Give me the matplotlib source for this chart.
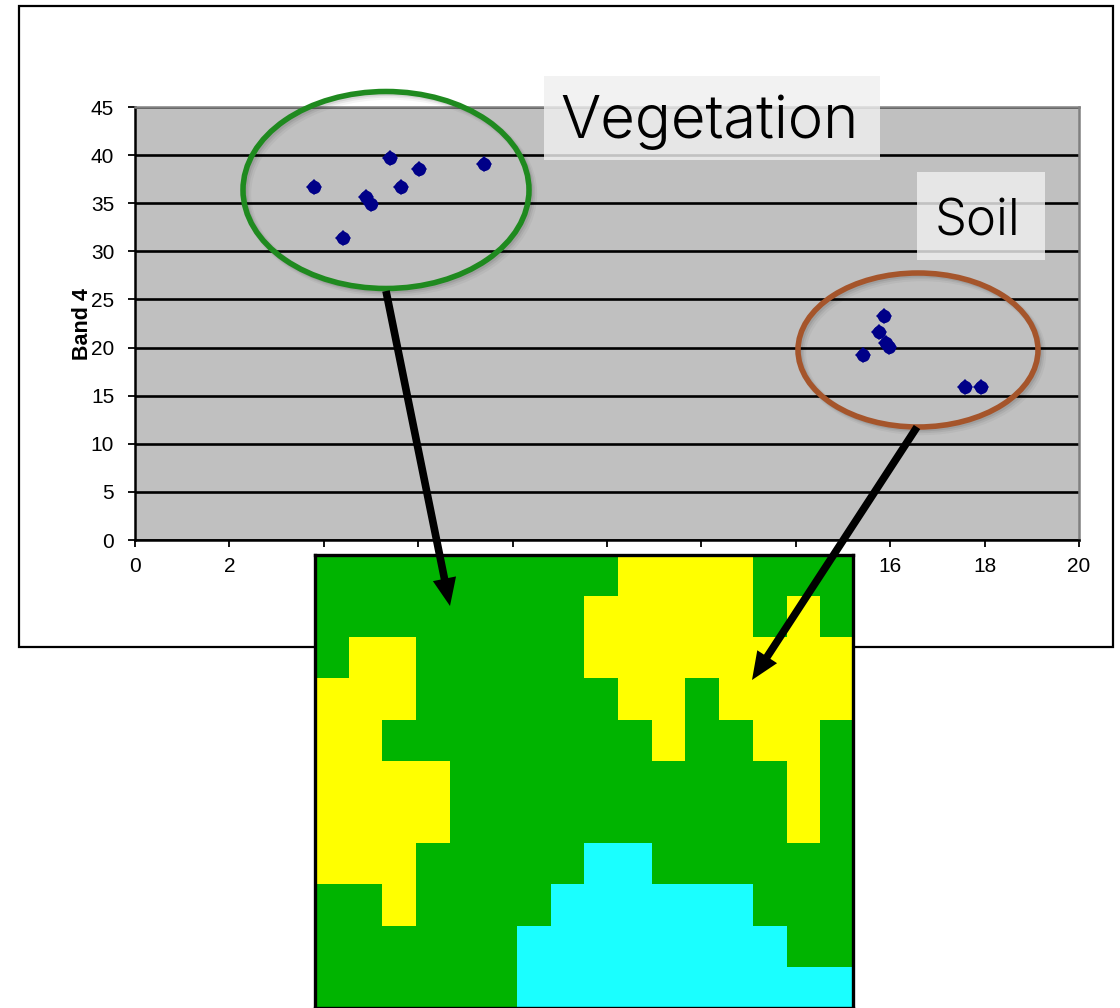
import numpy as np
import matplotlib
matplotlib.use("Agg")
import matplotlib.pyplot as plt
from matplotlib.colors import ListedColormap
from matplotlib.patches import Ellipse, Rectangle, FancyArrowPatch

W, H = 1120, 1008

#scatter values
veg_x = [3.79, 4.41, 4.89, 5.00, 5.40, 5.64, 6.02, 7.39]
veg_y = [36.7, 31.4, 35.6, 34.9, 39.7, 36.7, 38.6, 39.1]
soil_x = [15.87, 15.76, 15.91, 15.97, 15.42, 17.58, 17.92]
soil_y = [23.3, 21.6, 20.5, 20.1, 19.2, 15.9, 15.9]
x_ticks = [0, 2, 4, 6, 8, 10, 12, 14, 16, 18, 20]
y_ticks = [0, 5, 10, 15, 20, 25, 30, 35, 40, 45]
y_label = "Band 4"

#classified map, 0=vegetation 1=soil 2=water
class_map = [
    [0,0,0,0,0,0,0,0,0,1,1,1,1,0,0,0],
    [0,0,0,0,0,0,0,0,1,1,1,1,1,0,1,0],
    [0,1,1,0,0,0,0,0,1,1,1,1,1,1,1,1],
    [1,1,1,0,0,0,0,0,0,1,1,0,1,1,1,1],
    [1,1,0,0,0,0,0,0,0,0,1,0,0,1,1,0],
    [1,1,1,1,0,0,0,0,0,0,0,0,0,0,1,0],
    [1,1,1,1,0,0,0,0,0,0,0,0,0,0,1,0],
    [1,1,1,0,0,0,0,0,2,2,0,0,0,0,0,0],
    [0,0,1,0,0,0,0,2,2,2,2,2,2,0,0,0],
    [0,0,0,0,0,0,2,2,2,2,2,2,2,2,0,0],
    [0,0,0,0,0,0,2,2,2,2,2,2,2,2,2,2],
]
map_colors = ["#00b400", "#ffff00", "#1affff"]

plt.rcParams['font.family'] = ['Liberation Sans', 'DejaVu Sans']
fig = plt.figure(figsize=(W/100, H/100), dpi=100)

#helper, axes placed with pixel box (left, top, right, bottom)
def px_axes(l, t, r, b, z):
    return fig.add_axes([l/W, 1-b/H, (r-l)/W, (b-t)/H], zorder=z)

def overlay(z):
    a = fig.add_axes([0, 0, 1, 1], zorder=z)
    a.set_xlim(0, W)
    a.set_ylim(H, 0)
    a.axis("off")
    a.patch.set_alpha(0)
    return a

#outer frame of the slide
bg = overlay(0)
bg.add_patch(Rectangle((18.5, 5.5), 1094, 641, fc="white", ec="black", lw=1.6))

#scatter chart
ax = px_axes(135, 107, 1079, 540, 1)
ax.set_facecolor("#c0c0c0")
ax.set_xlim(0, 20)
ax.set_ylim(0, 45)
ax.set_xticks(x_ticks)
ax.set_yticks(y_ticks)
ax.grid(axis="y", color="black", lw=1.9)
ax.set_axisbelow(True)
ax.tick_params(length=5, width=1.3, labelsize=15, color="black")
ax.tick_params(axis="y", pad=10)
ax.tick_params(axis="x", pad=7)
for xs, ys in [(veg_x, veg_y), (soil_x, soil_y)]:
    ax.plot(xs, ys, ls="", marker="D", ms=8.2, mew=0, color="#000088")
    ax.plot(xs, ys, ls="", marker="o", ms=9.5, mew=0, color="#000088")
for s in ["left", "bottom"]:
    ax.spines[s].set_linewidth(1.8)
for s in ["top", "right"]:
    ax.spines[s].set_linewidth(1.8)
    ax.spines[s].set_color("#808080")
fig.text(82/W, 1-324/H, y_label, rotation=90, fontsize=15.5, fontweight="bold", ha="center", va="center", zorder=2)

#ellipses with soft shadow + label boxes
ov = overlay(3)
for cx, cy, w, h, col in [(386, 190, 286, 197, "#1f8a1f"), (918, 350, 240, 154, "#a5552b")]:
    for off, lw, al in [(4, 6, 0.04), (3, 4.5, 0.06), (2, 3.5, 0.08)]:
        ov.add_patch(Ellipse((cx+off, cy+off), w, h, fc="none", ec="black", lw=lw, alpha=al))
    ov.add_patch(Ellipse((cx, cy), w, h, fc="none", ec=col, lw=4))

ov.add_patch(Rectangle((544, 76), 336, 84, fc="#efefef", ec="none", alpha=0.81))
ov.add_patch(Rectangle((917, 172), 128, 88, fc="#efefef", ec="none", alpha=0.81))
ov.text(710, 138, "Vegetation", fontsize=43, family="Inter", fontweight=300, ha="center", va="baseline")
ov.text(978, 235, "Soil", fontsize=36.5, family="Inter", fontweight=300, ha="center", va="baseline")

#classified image, runs off the bottom of the figure
im = px_axes(315, 555, 853, 1008, 4)
im.imshow(np.array(class_map), cmap=ListedColormap(map_colors), vmin=0, vmax=2, aspect="auto", interpolation="nearest")
im.set_xticks([])
im.set_yticks([])
for s in im.spines.values():
    s.set_linewidth(2.4)
    s.set_color("black")

#arrows from the clusters down to the map
top = overlay(5)
for start, end in [((386, 291), (450, 606)), ((917, 427), (752, 680))]:
    top.add_patch(FancyArrowPatch(start, end, arrowstyle="simple,head_length=20,head_width=17,tail_width=5.5",
                                  mutation_scale=1, lw=0, color="black", shrinkA=0, shrinkB=0))

fig.savefig("out.png", dpi=100)
